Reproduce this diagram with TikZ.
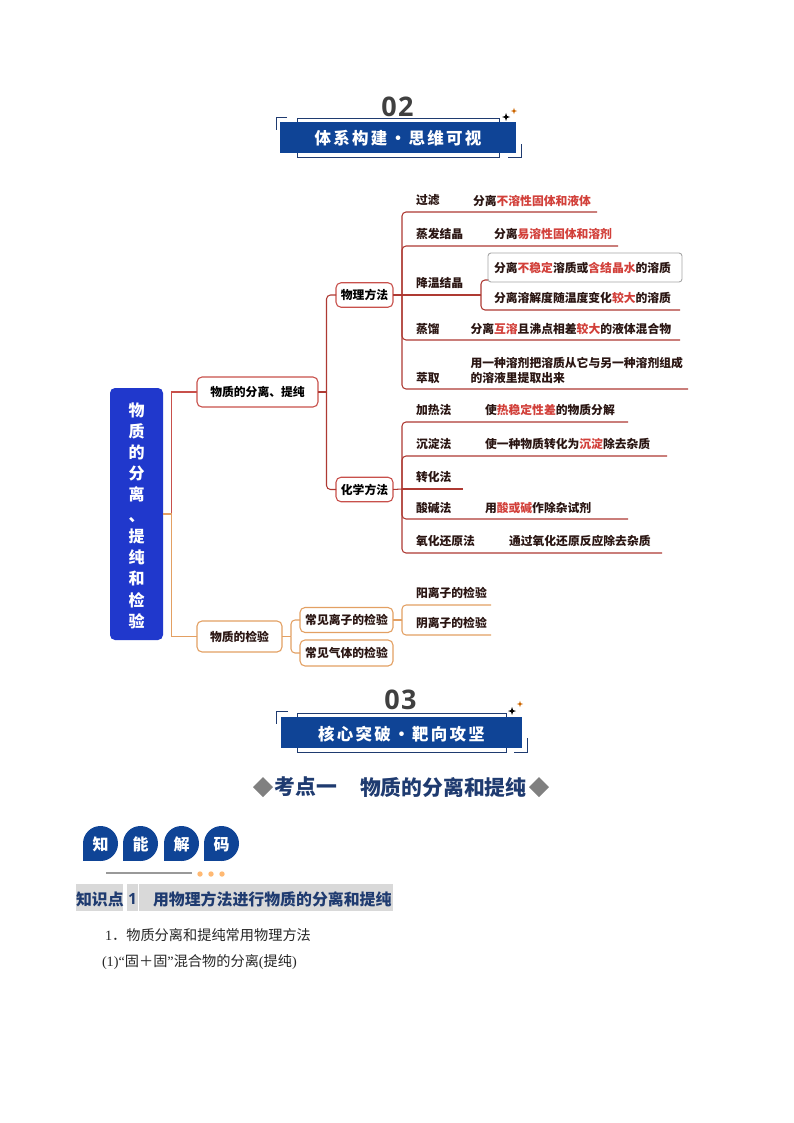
\documentclass[tikz,border=0pt]{standalone}
\usepackage{fontspec}
\setmainfont{Noto Sans CJK SC}
\newfontfamily\numfont[LetterSpace=5]{Open Sans}
\newfontfamily\numplain{Open Sans}
\newfontfamily\serifnum{Liberation Serif}
\newfontfamily\bandfont[LetterSpace=14]{Noto Sans CJK SC}
\definecolor{bandblue}{HTML}{0F4496}
\definecolor{rootblue}{HTML}{2038CC}
\definecolor{redline}{HTML}{AE3A33}
\definecolor{rednode}{HTML}{C8504B}
\definecolor{orangeline}{HTML}{E3A063}
\definecolor{hot}{HTML}{D2403A}
\definecolor{ink}{HTML}{2A1512}
\definecolor{navy}{HTML}{1F3B70}
\definecolor{bargrey}{HTML}{D9D9D9}
\newcommand{\hl}[1]{\textcolor{hot}{#1}}
\tikzset{
  x=1pt,y=-1pt,
  every node/.style={inner sep=0pt,outer sep=0pt},
  map/.style={anchor=west,text=ink,font=\bfseries\fontsize{11.8}{15}\selectfont,text height=11.5pt,text depth=2pt},
  rednodebox/.style={draw=rednode,line width=1.1pt,rounded corners=5pt,fill=white,text=black,text height=11.5pt,text depth=2pt,font=\bfseries\fontsize{11.8}{15}\selectfont},
  orangebox/.style={draw=orangeline,line width=1.1pt,rounded corners=5pt,fill=white,text=ink,text height=11.5pt,text depth=2pt,font=\bfseries\fontsize{11.8}{15}\selectfont},
  redlink/.style={draw=redline,line width=1.05pt,rounded corners=4pt},
  orangelink/.style={draw=orangeline,line width=1.05pt,rounded corners=4pt},
  bandbox/.style={fill=bandblue,text=white,text height=16pt,text depth=1pt,font=\bandfont\bfseries\fontsize{16.5}{18}\selectfont},
  frameline/.style={draw=navy,line width=0.9pt},
  numtext/.style={text=black!75,font=\numfont\bfseries\fontsize{27}{28}\selectfont},
  petal/.style={fill=bandblue},
  petaltext/.style={text=white,font=\bfseries\fontsize{16}{18}\selectfont},
  headtext/.style={text=navy,font=\bfseries\fontsize{20.8}{24}\selectfont,anchor=west},
  bartext/.style={text=navy,font=\bfseries\fontsize{15.9}{18}\selectfont,anchor=west},
  bodytext/.style={anchor=west,text=black!85,font=\fontsize{14.2}{16}\selectfont},
  sparkle/.pic={\fill (0,-4) -- (1,-1) -- (4,0) -- (1,1) -- (0,4) -- (-1,1) -- (-4,0) -- (-1,-1) -- cycle;},
}
\begin{document}
\begin{tikzpicture}
\useasboundingbox[fill=white] (0,0) rectangle (794,1123);

% ---------- header 02
\node[numtext] (n02) at (397.5,107) {02};
\draw[frameline] (297,118) rectangle (499,157);
\node[bandbox,minimum width=236pt,minimum height=31pt] (band02) at (398,137.5) {体系构建·思维可视};
\coordinate (a1) at (287,117); \coordinate (a2) at (276,130);
\draw[frameline] (a1) -| (a2);
\coordinate (a3) at (508,157); \coordinate (a4) at (521,144);
\draw[frameline] (a3) -| (a4);
\pic[black] at (506,117) {sparkle};
\pic[orange!80!black,scale=0.8] at (514,111) {sparkle};

% ---------- mind map nodes
\node[fill=rootblue,rounded corners=5pt,minimum width=53pt,minimum height=252pt] (root) at (136.5,514) {};
\node[text=white,align=center,font=\bfseries\fontsize{16}{21.1}\selectfont] (roottext) at (136.5,515.5)
      {物\\质\\的\\分\\离\\、\\提\\纯\\和\\检\\验};
\node[rednodebox,minimum width=121pt,minimum height=30pt] (sep) at (257.5,392) {物质的分离、提纯};
\node[rednodebox,minimum width=57pt,minimum height=24.5pt] (phys) at (364.5,295) {物理方法};
\node[rednodebox,minimum width=57pt,minimum height=24.5pt] (chem) at (364.5,489.5) {化学方法};
\node[orangebox,minimum width=85pt,minimum height=31pt] (det) at (239.5,636.5) {物质的检验};
\node[orangebox,minimum width=93pt,minimum height=25pt] (ion) at (346.5,620) {常见离子的检验};
\node[orangebox,minimum width=93pt,minimum height=26pt] (gas) at (346.5,653) {常见气体的检验};

% ---------- trunk junctions
\coordinate (j0) at (171.5,514);
\coordinate (j1) at (326.5,392);
\coordinate (j2) at (402,295);
\coordinate (j3) at (402,489);
\coordinate (j4) at (291,636.5);
\coordinate (j5) at (402,620);
\coordinate (j6) at (481,295);

% root links
\draw[draw=rednode,line width=1.05pt] (sep.west) -| (j0);
\draw[draw=orangeline,line width=1.05pt] (det.west) -| (j0);
\draw[draw=orangeline,line width=1.05pt] (root.east |- j0) -- (j0);

% level 2
\draw[redlink] (sep.east) -- (j1);
\draw[redlink] (j1) |- (phys.west);
\draw[redlink] (j1) |- (chem.west);

% physical
\coordinate (e1) at (597,212);
\coordinate (e2) at (618,246);
\coordinate (e4) at (680,340);
\coordinate (e5) at (688,389);
\coordinate (s1) at (680,280);
\coordinate (s2) at (680,310);
\draw[redlink] (phys.east) -- (j2);
\draw[redlink] (j2) |- (e1);
\draw[redlink] (j2) |- (e2);
\draw[redlink] (j2) -- (j6);
\draw[redlink] (j2) |- (e4);
\draw[redlink] (j2) |- (e5);
\draw[redlink] (j6) |- (s1);
\draw[redlink] (j6) |- (s2);

% chemical
\coordinate (c1) at (628,422);
\coordinate (c2) at (667,456);
\coordinate (c3) at (463,489);
\coordinate (c4) at (628,519);
\coordinate (c5) at (662,553);
\draw[redlink] (chem.east) -- (j3);
\draw[redlink] (j3) |- (c1);
\draw[redlink] (j3) |- (c2);
\draw[redlink] (j3) -- (c3);
\draw[redlink] (j3) |- (c4);
\draw[redlink] (j3) |- (c5);

% detection
\coordinate (d1) at (491,605);
\coordinate (d2) at (491,635);
\draw[orangelink] (det.east) -- (j4);
\draw[orangelink] (j4) |- (ion.west);
\draw[orangelink] (j4) |- (gas.west);
\draw[orangelink] (ion.east) -- (j5);
\draw[orangelink] (j5) |- (d1);
\draw[orangelink] (j5) |- (d2);

% ---------- physical labels
\node[map] (t1) at (416,200) {过滤};
\node[map] (t1b) at (473,200.5) {分离\hl{不溶性固体和液体}};
\node[map] (t2) at (416,234) {蒸发结晶};
\node[map] (t2b) at (494,234) {分离\hl{易溶性固体和溶剂}};
\node[map] (t3) at (416,283) {降温结晶};
\node[draw=black!35,line width=0.9pt,fill=white,rounded corners=3pt,minimum width=194pt,minimum height=29pt] (greybox) at (585,267.5) {};
\node[map] (t3a) at (494,268) {分离\hl{不稳定}溶质或\hl{含结晶水}的溶质};
\node[map] (t3b) at (494,298) {分离溶解度随温度变化\hl{较大}的溶质};
\node[map] (t4) at (416,329) {蒸馏};
\node[map] (t4b) at (470.5,329) {分离\hl{互溶}且沸点相差\hl{较大}的液体混合物};
\node[map] (t5) at (416,378) {萃取};
\node[map] (t5a) at (470.5,363) {用一种溶剂把溶质从它与另一种溶剂组成};
\node[map] (t5b) at (470.5,378) {的溶液里提取出来};

% ---------- chemical labels
\node[map] (u1) at (416,410) {加热法};
\node[map] (u1b) at (485,410) {使\hl{热稳定性差}的物质分解};
\node[map] (u2) at (416,444) {沉淀法};
\node[map] (u2b) at (485,444) {使一种物质转化为\hl{沉淀}除去杂质};
\node[map] (u3) at (416,477) {转化法};
\node[map] (u4) at (416,508) {酸碱法};
\node[map] (u4b) at (485,508) {用\hl{酸或碱}作除杂试剂};
\node[map] (u5) at (416,541) {氧化还原法};
\node[map] (u5b) at (509,541) {通过氧化还原反应除去杂质};

% ---------- detection labels
\node[map] (v1) at (416,593) {阳离子的检验};
\node[map] (v2) at (416,623) {阴离子的检验};

% ---------- header 03
\node[numtext] (n03) at (400.5,700) {03};
\draw[frameline] (297,713) rectangle (506,752);
\node[bandbox,minimum width=241pt,minimum height=31pt] (band03) at (401.5,732.5) {核心突破·靶向攻坚};
\coordinate (b1) at (288,711); \coordinate (b2) at (276,724);
\draw[frameline] (b1) -| (b2);
\coordinate (b3) at (514,752); \coordinate (b4) at (527,738);
\draw[frameline] (b3) -| (b4);
\pic[black] at (512,711) {sparkle};
\pic[orange!80!black,scale=0.8] at (520,704) {sparkle};

% ---------- heading
\fill[black!50] (253,787) -- (263,777) -- (273,787) -- (263,797) -- cycle;
\fill[black!50] (529,787) -- (539,777) -- (549,787) -- (539,797) -- cycle;
\node[headtext] (h1) at (274.5,787) {考点一};
\node[headtext] (h2) at (360,787) {物质的分离和提纯};

% ---------- petals
\fill[petal] (100.5,843.5) circle[radius=17.5];
\fill[petal] (83,843.5) rectangle (100.5,861);
\fill[petal] (140.5,843.5) circle[radius=17.5];
\fill[petal] (123,843.5) rectangle (140.5,861);
\fill[petal] (181.5,843.5) circle[radius=17.5];
\fill[petal] (164,843.5) rectangle (181.5,861);
\fill[petal] (221.5,843.5) circle[radius=17.5];
\fill[petal] (204,843.5) rectangle (221.5,861);
\node[petaltext] (p1) at (100.5,844.5) {知};
\node[petaltext] (p2) at (140.5,844.5) {能};
\node[petaltext] (p3) at (181.5,844.5) {解};
\node[petaltext] (p4) at (221.5,844.5) {码};
\draw[black!40,line width=1.4pt] (106,873) -- (192,873);
\fill[orange!55] (200,874) circle[radius=2.7];
\fill[orange!55] (211,874) circle[radius=2.7];
\fill[orange!55] (222,874) circle[radius=2.7];

% ---------- knowledge bar
\fill[bargrey] (76,884) rectangle (123,911);
\fill[bargrey] (127,884) rectangle (393,911);
\draw[white,line width=0.7pt] (138,884) -- (138,911);
\node[bartext] (k1) at (76,899) {知识点};
\node[bartext,font=\numplain\bfseries\fontsize{15.5}{18}\selectfont] (k2) at (128,899) {1};
\node[bartext] (k3) at (153,899) {用物理方法进行物质的分离和提纯};

% ---------- body
\node[bodytext] (b1t) at (105,935) {{\serifnum 1}．物质分离和提纯常用物理方法};
\node[bodytext] (b2t) at (102,962) {{\serifnum (1)“}固＋固{\serifnum ”}混合物的分离{\serifnum (}提纯{\serifnum )}};
\end{tikzpicture}
\end{document}
